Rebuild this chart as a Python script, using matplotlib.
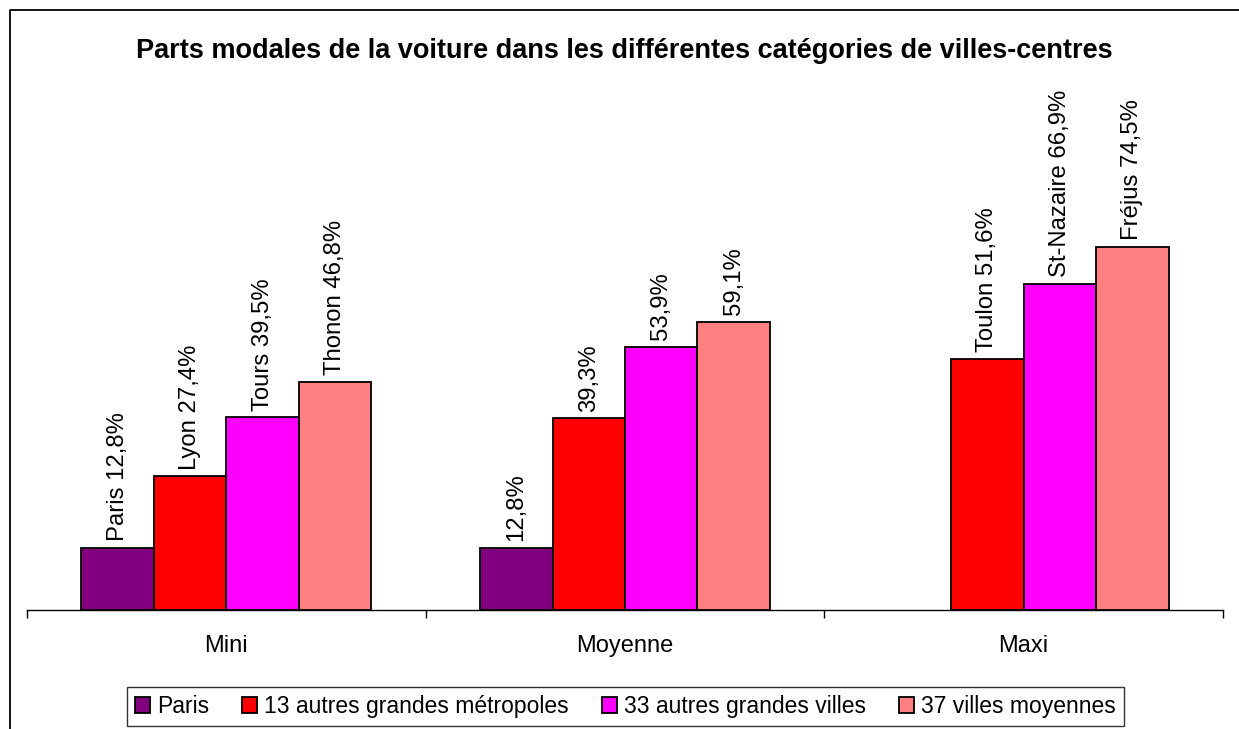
import matplotlib
matplotlib.use("Agg")
import matplotlib.pyplot as plt
from matplotlib.lines import Line2D
import numpy as np

plt.rcParams['font.family'] = ['Liberation Sans', 'DejaVu Sans']

categories = ['Mini', 'Moyenne', 'Maxi']
series_names = ['Paris', '13 autres grandes métropoles', '33 autres grandes villes', '37 villes moyennes']
paris = [12.8, 12.8, np.nan]
metropoles = [27.4, 39.3, 51.6]
grandes_villes = [39.5, 53.9, 66.9]
villes_moyennes = [46.8, 59.1, 74.5]
# city names shown in front of the value (empty = value only)
city_names = [
    ['Paris', '', ''],
    ['Lyon', '', 'Toulon'],
    ['Tours', '', 'St-Nazaire'],
    ['Thonon', '', 'Fréjus'],
]
colors = ['#800080', '#FF0000', '#FF00FF', '#FF8080']

W, H = 1239, 729
fig = plt.figure(figsize=(W / 100, H / 100), dpi=100)
ax = fig.add_axes([27 / W, 119 / H, 1196 / W, 487.4 / H])

values = [paris, metropoles, grandes_villes, villes_moyennes]
x = np.arange(len(categories))
width = 1 / 5.5
for i, (vals, col) in enumerate(zip(values, colors)):
    pos = x + (i - 1.5) * width
    ax.bar(pos, vals, width, color=col, edgecolor='black', linewidth=1.3,
           label=series_names[i])
    for j, v in enumerate(vals):
        if np.isnan(v):
            continue
        txt = f"{v:.1f}".replace('.', ',') + '%'
        if city_names[i][j]:
            txt = city_names[i][j] + ' ' + txt
        ax.annotate(txt, (pos[j], v), xytext=(0, 5), textcoords='offset points',
                    rotation=90, ha='center', va='bottom', fontsize=17.2,
                    annotation_clip=False)

ax.set_xlim(-0.5, 2.5)
ax.set_ylim(0, 100)
for s in ['left', 'right', 'top']:
    ax.spines[s].set_visible(False)
ax.spines['bottom'].set_linewidth(1)
ax.set_yticks([])
ax.set_xticks([-0.5, 0.5, 1.5, 2.5])
ax.set_xticklabels([])
ax.tick_params(axis='x', which='major', direction='out', length=6, width=1)
ax.set_xticks(x, minor=True)
ax.set_xticklabels(categories, minor=True, fontsize=17)
ax.tick_params(axis='x', which='minor', length=0, pad=18)

fig.text(624.5 / W, 1 - 51 / H,
         'Parts modales de la voiture dans les différentes catégories de villes-centres',
         ha='center', va='center', fontsize=19.5, fontweight='bold')

leg = fig.legend(loc='upper center', bbox_to_anchor=(625.5 / W, 1 - 687 / H),
                 ncol=4, fontsize=16.5, frameon=True, fancybox=False,
                 handlelength=0.65, handleheight=0.65, handletextpad=0.3,
                 columnspacing=1.45, borderpad=0.35, borderaxespad=0)
leg.get_frame().set_edgecolor('black')
leg.get_frame().set_linewidth(1)

# outer chart frame (right and bottom edges are cut off)
fig.add_artist(Line2D([10 / W, 10 / W, 1], [0, 1 - 10 / H, 1 - 10 / H],
                      transform=fig.transFigure, color='black', linewidth=1.3))

fig.savefig('out.png', dpi=100)
